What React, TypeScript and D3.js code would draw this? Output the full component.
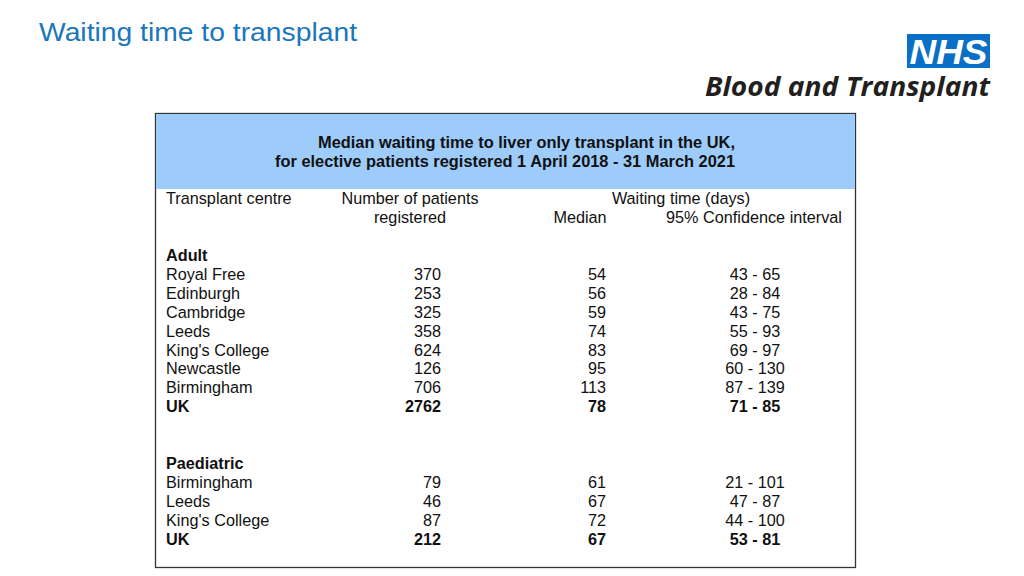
import React from "react";
import * as d3 from "d3";

const adultCentres = ["Royal Free", "Edinburgh", "Cambridge", "Leeds", "King's College", "Newcastle", "Birmingham", "UK"];
const adultRegistered = [370, 253, 325, 358, 624, 126, 706, 2762];
const adultMedian = [54, 56, 59, 74, 83, 95, 113, 78];
const adultCiLow = [43, 28, 43, 55, 69, 60, 87, 71];
const adultCiHigh = [65, 84, 75, 93, 97, 130, 139, 85];

const paedCentres = ["Birmingham", "Leeds", "King's College", "UK"];
const paedRegistered = [79, 46, 87, 212];
const paedMedian = [61, 67, 72, 67];
const paedCiLow = [21, 47, 44, 53];
const paedCiHigh = [101, 87, 100, 81];

const FONT = "'Liberation Sans', Arial, sans-serif";

type Row = { label: string; reg?: number; med?: number; lo?: number; hi?: number; bold: boolean; idx: number };

function buildRows(): Row[] {
  const rows: Row[] = [];
  rows.push({ label: "Adult", bold: true, idx: 0 });
  adultCentres.forEach((c, i) =>
    rows.push({ label: c, reg: adultRegistered[i], med: adultMedian[i], lo: adultCiLow[i], hi: adultCiHigh[i], bold: c === "UK", idx: 1 + i })
  );
  rows.push({ label: "Paediatric", bold: true, idx: 11 });
  paedCentres.forEach((c, i) =>
    rows.push({ label: c, reg: paedRegistered[i], med: paedMedian[i], lo: paedCiLow[i], hi: paedCiHigh[i], bold: c === "UK", idx: 12 + i })
  );
  return rows;
}

function T(props: { x: number; y: number; anchor?: string; bold?: boolean; children: React.ReactNode }) {
  return (
    <text
      transform={`translate(${props.x},${props.y}) scale(0.955,1)`}
      textAnchor={props.anchor || "start"}
      fontWeight={props.bold ? "bold" : "normal"}
    >
      {props.children}
    </text>
  );
}

export default function App() {
  const rows = buildRows();
  const y = d3.scaleLinear().domain([0, 15]).range([255, 538.5]);
  const cols = { label: 166, reg: 441, med: 606, ci: 755 };
  return (
    <svg width={1024} height={576} style={{ position: "absolute", left: 0, top: 0, background: "#fff" }}>
      <text x={39} y={41} fontFamily="'Liberation Sans', Arial, sans-serif" fontSize={26.5} fill="#1a76bd" textLength={318} lengthAdjust="spacingAndGlyphs">
        Waiting time to transplant
      </text>
      {/* NHS logo */}
      <rect x={907} y={34} width={83} height={34} fill="#0a6fc6" />
      <text x={948.5} y={64} textAnchor="middle" fontFamily="'Liberation Sans', Arial, sans-serif" fontWeight="bold" fontStyle="italic" fontSize={35} fill="#fff" textLength={78} lengthAdjust="spacingAndGlyphs">
        NHS
      </text>
      <text x={705} y={96} fontFamily="'Open Sans', 'Liberation Sans', sans-serif" fontWeight={700} fontStyle="italic" fontSize={27} fill="#231f20" textLength={285} lengthAdjust="spacingAndGlyphs">
        Blood and Transplant
      </text>

      {/* table box */}
      <rect x={155.5} y={113.5} width={700} height={454} fill="#fff" stroke="#333" strokeWidth={1.3} />
      <rect x={156} y={114} width={699} height={75} fill="#9dcbfa" />
      <g fontFamily={FONT} fontWeight="bold" fontSize={16.5} fill="#111">
        <text x={318} y={148} textLength={417} lengthAdjust="spacingAndGlyphs">Median waiting time to liver only transplant in the UK,</text>
        <text x={275} y={167} textLength={460} lengthAdjust="spacingAndGlyphs">for elective patients registered 1 April 2018 - 31 March 2021</text>
      </g>
      <g fontFamily={FONT} fontSize={17} fill="#111">
        <T x={166} y={204}>Transplant centre</T>
        <T x={410} y={204} anchor="middle">Number of patients</T>
        <T x={410} y={223} anchor="middle">registered</T>
        <T x={681} y={204} anchor="middle">Waiting time (days)</T>
        <T x={580} y={223} anchor="middle">Median</T>
        <T x={754} y={223} anchor="middle">95% Confidence interval</T>
      </g>
      <g fontFamily={FONT} fontSize={17} fill="#111">
        {rows.map((r) => {
          const yy = y(r.idx) + 6;
          return (
            <g key={r.label + r.idx}>
              <T x={cols.label} y={yy} bold={r.bold}>{r.label}</T>
              {r.reg !== undefined && (
                <>
                  <T x={cols.reg} y={yy} anchor="end" bold={r.bold}>{r.reg}</T>
                  <T x={cols.med} y={yy} anchor="end" bold={r.bold}>{r.med}</T>
                  <T x={cols.ci} y={yy} anchor="middle" bold={r.bold}>{`${r.lo} - ${r.hi}`}</T>
                </>
              )}
            </g>
          );
        })}
      </g>
    </svg>
  );
}
